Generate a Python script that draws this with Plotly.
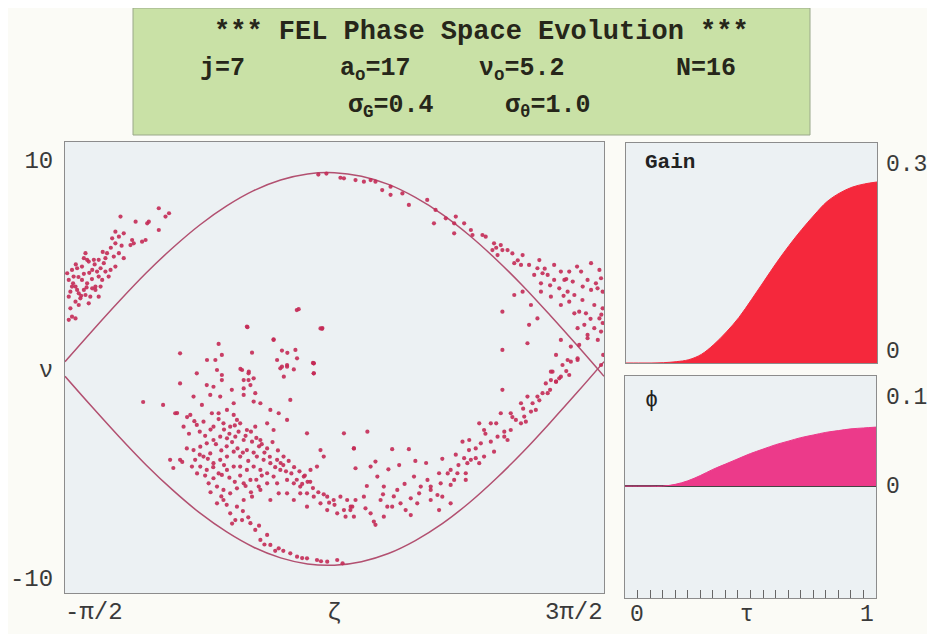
import plotly.graph_objects as go

W, H = 935, 634          # browser window
OX, OY = 8, 8            # default body margin of the html page
FW, FH = W - OX, H - OY

# ---------------- data ----------------
# zeta is stored in units of pi (axis runs from -pi/2 to 3pi/2)
sep_zeta = [-0.5, -0.4, -0.3, -0.2, -0.1, 0.0, 0.1, 0.2, 0.3, 0.4, 0.5,
            0.6, 0.7, 0.8, 0.9, 1.0, 1.1, 1.2, 1.3, 1.4, 1.5]
sep_upper = [0.35, 1.81, 3.23, 4.58, 5.80, 6.89, 7.80, 8.53, 9.04, 9.33, 9.39,
             9.22, 8.83, 8.21, 7.40, 6.40, 5.24, 3.96, 2.57, 1.13, -0.35]
sep_lower = [-0.35, -1.81, -3.23, -4.58, -5.80, -6.89, -7.80, -8.53, -9.04, -9.33, -9.39,
             -9.22, -8.83, -8.21, -7.40, -6.40, -5.24, -3.96, -2.57, -1.13, 0.35]

# particles (zeta/pi, nu)
cluster_upper_left = [
    (-0.474, 3.94), (-0.455, 3.78), (-0.449, 3.62), (-0.424, 3.54), (-0.412, 3.14),
    (-0.461, 3.22), (-0.443, 3.38), (-0.399, 3.86), (-0.387, 3.94), (-0.368, 3.94),
    (-0.418, 4.10), (-0.437, 4.26), (-0.468, 4.42), (-0.455, 4.82), (-0.437, 4.90),
    (-0.412, 5.14), (-0.399, 4.74), (-0.381, 4.66), (-0.368, 4.82), (-0.350, 4.66),
    (-0.331, 4.74), (-0.313, 4.90), (-0.356, 5.06), (-0.350, 5.30), (-0.375, 5.22),
    (-0.393, 5.22), (-0.424, 5.54), (-0.418, 5.22), (-0.344, 5.54), (-0.319, 5.38),
    (-0.300, 5.54), (-0.282, 5.30), (-0.313, 6.01), (-0.325, 6.25), (-0.300, 6.33),
    (-0.282, 6.49), (-0.251, 6.17), (-0.245, 6.01), (-0.214, 6.09), (-0.201, 6.17),
    (-0.257, 5.93), (-0.313, 6.57), (-0.294, 7.29), (-0.238, 7.05), (-0.195, 6.97),
    (-0.189, 7.05), (-0.152, 7.69), (-0.127, 7.29), (-0.114, 7.45), (-0.152, 6.65),
    (-0.486, 3.46), (-0.492, 4.58), (-0.474, 2.50), (-0.461, 2.42), (-0.486, 2.35),
    (-0.375, 3.46), (-0.387, 3.78), (-0.362, 4.26), (-0.338, 4.42), (-0.449, 3.06),
    (-0.480, 2.90), (-0.430, 3.78), (-0.406, 3.46), (-0.461, 3.94), (-0.375, 4.42),
    (-0.430, 4.55), (-0.474, 4.74), (-0.486, 4.26), (-0.470, 4.10), (-0.450, 4.40),
    (-0.420, 3.90), (-0.400, 4.30), (-0.440, 3.50), (-0.480, 3.70), (-0.410, 4.60),
    (-0.390, 5.00), (-0.360, 5.60), (-0.330, 5.80), (-0.290, 5.90), (-0.460, 5.00),
    (-0.430, 5.30),
]
cluster_upper_right = [
    (0.522, 9.15), (0.535, 9.12), (0.578, 9.04), (0.609, 8.96), (0.634, 9.04),
    (0.652, 8.96), (0.677, 8.56), (0.708, 8.72), (0.708, 8.33), (0.752, 8.40),
    (0.776, 7.85), (0.844, 8.09), (0.875, 7.61), (0.869, 6.97), (0.913, 7.21),
    (0.950, 7.29), (0.944, 6.97), (0.981, 6.97), (1.006, 6.65), (1.012, 6.41),
    (1.049, 6.41), (1.061, 6.33), (1.092, 6.01), (1.117, 5.93), (1.123, 5.69),
    (1.142, 5.69), (1.086, 5.69), (1.105, 5.45), (1.160, 5.53), (1.167, 5.06),
    (1.198, 5.45), (1.192, 4.98), (1.222, 4.98), (1.260, 5.21), (1.253, 4.82),
    (1.272, 4.58), (1.291, 4.50), (1.315, 4.98), (1.340, 4.66), (1.371, 4.66),
    (1.353, 4.26), (1.384, 4.18), (1.415, 4.66), (1.452, 5.06), (1.483, 4.74),
    (1.489, 4.34), (1.439, 4.26), (1.421, 3.94), (1.452, 3.78), (1.476, 3.86),
    (1.495, 3.70), (1.315, 4.26), (1.334, 3.86), (1.365, 3.70), (1.390, 3.54),
    (1.303, 3.46), (1.340, 3.06), (1.371, 3.22), (1.408, 2.74), (1.433, 2.66),
    (1.390, 2.66), (1.427, 2.11), (1.402, 1.95), (1.439, 1.63), (1.464, 1.95),
    (1.489, 1.79), (1.483, 2.42), (1.495, 2.90), (1.464, 3.06), (1.266, 4.10),
    (1.241, 4.50), (1.266, 3.70), (1.198, 3.70), (1.167, 3.54), (1.123, 2.74),
    (1.229, 3.06), (1.253, 2.42), (1.222, 2.11), (1.340, 1.39), (1.377, 1.07),
    (1.408, 1.15), (1.439, 1.47), (1.477, 1.39), (1.216, 1.23), (1.123, 0.91),
    (1.322, 0.67), (1.365, 0.43), (1.402, 0.51), (1.303, -0.13), (1.334, -0.45),
    (1.371, -0.29), (1.322, -0.61), (1.489, 0.19), (1.497, 0.67), (0.944, 6.49),
    (0.448, 1.94), (1.495, 2.20), (1.490, 2.60), (1.300, 4.00), (1.350, 3.50),
    (1.420, 3.30), (1.450, 2.40), (1.470, 4.10), (1.280, 4.80), (1.400, 4.90),
    (1.360, 4.30), (1.180, 5.20), (1.100, 5.80), (0.470, 9.35), (0.440, 9.30),
]
cluster_lower_left = [
    (0.026, -0.77), (0.051, -0.85), (0.082, -0.29), (0.119, -1.00), (0.163, -0.93),
    (0.188, -0.77), (0.206, -1.16), (0.181, -0.53), (0.157, -0.05), (0.181, -0.21),
    (0.039, -1.24), (0.076, -1.32), (0.126, -1.64), (0.163, -1.24), (0.200, -1.56),
    (0.225, -1.64), (0.262, -1.96), (0.293, -2.12), (0.324, -2.44), (0.305, 0.11),
    (0.324, 0.19), (0.423, 0.27), (0.423, -0.21), (0.336, -1.48), (0.398, -3.08),
    (0.448, -3.88), (0.535, -3.08), (0.572, -3.80), (-0.073, -0.69), (-0.023, -1.32),
    (0.008, -1.72), (-0.035, -2.20), (-0.060, -2.76), (-0.011, -2.68), (0.014, -2.52),
    (0.045, -2.12), (0.070, -2.12), (0.101, -1.96), (0.126, -2.20), (0.138, -2.44),
    (0.051, -2.76), (0.088, -2.60), (0.113, -2.76), (0.144, -3.00), (0.175, -2.92),
    (0.206, -2.76), (0.250, -2.60), (0.274, -2.92), (0.225, -3.40), (0.194, -3.48),
    (0.163, -3.40), (0.132, -3.24), (0.101, -3.32), (0.076, -3.24), (0.051, -3.40),
    (0.026, -3.56), (0.002, -3.72), (-0.023, -3.88), (-0.048, -3.80), (-0.017, -4.35),
    (-0.029, -4.67), (0.002, -4.67), (0.026, -4.83), (0.051, -4.51), (0.076, -4.35),
    (0.101, -4.19), (0.126, -3.96), (0.150, -4.19), (0.175, -3.88), (0.212, -4.19),
    (0.237, -4.35), (0.262, -4.51), (0.287, -4.35), (0.311, -4.19), (0.299, -4.83),
    (0.274, -5.15), (0.250, -4.99), (0.225, -4.83), (0.200, -4.67), (0.175, -4.83),
    (0.150, -4.67), (0.126, -4.67), (0.101, -4.83), (0.082, -5.07), (0.051, -5.23),
    (0.033, -5.47), (0.064, -5.63), (0.088, -5.79), (0.113, -5.95), (0.138, -5.71),
    (0.163, -5.47), (0.188, -5.31), (0.219, -5.63), (0.250, -5.47), (0.287, -5.47),
    (0.324, -5.31), (0.349, -5.47), (0.373, -5.63), (0.386, -5.15), (0.411, -4.83),
    (0.435, -4.67), (0.460, -4.19), (0.473, -6.11), (0.497, -6.27), (0.522, -6.11),
    (0.547, -6.27), (0.566, -6.59), (0.535, -6.75), (0.510, -6.91), (0.473, -6.75),
    (0.448, -6.43), (0.423, -6.11), (0.398, -5.95), (0.373, -5.95), (0.398, -6.59),
    (0.349, -6.27), (0.324, -5.95), (0.293, -5.95), (0.262, -6.27), (0.225, -5.79),
    (0.194, -6.11), (0.163, -6.27), (0.138, -6.59), (0.113, -6.91), (0.132, -7.23),
    (0.157, -7.23), (0.188, -7.38), (0.206, -7.70), (0.225, -8.18), (0.250, -7.94),
    (0.262, -8.42), (0.293, -8.58), (0.336, -8.82), (0.361, -8.98), (0.398, -9.06),
    (0.435, -9.14), (0.473, -9.22), (0.510, -9.14), (0.559, -6.75), (0.541, -7.07),
    (0.572, -7.07), (0.064, -6.43), (0.088, -6.27), (0.039, -4.04), (0.014, -4.19),
    (-0.073, -4.35), (-0.091, -2.12), (-0.011, -0.21), (0.064, -0.05), (0.082, -0.53),
    (-0.210, -1.58), (-0.136, -1.72), (-0.084, -2.11), (-0.047, -2.30), (-0.110, -4.35),
    (-0.065, -4.45), (-0.098, -4.74),
    (0.000, -3.00), (0.020, -3.20), (0.040, -2.90), (0.060, -3.60), (0.080, -3.90),
    (0.100, -3.70), (0.120, -3.50), (0.140, -3.80), (0.160, -4.00), (0.180, -4.40),
    (0.200, -4.00), (0.220, -3.70), (0.240, -4.00), (0.260, -4.20), (0.280, -4.70),
    (0.300, -4.50), (0.320, -4.90), (0.340, -5.00), (0.360, -5.30), (0.380, -5.50),
    (0.400, -5.40), (0.420, -5.70), (0.440, -5.90), (0.460, -6.00), (0.480, -6.40),
    (0.500, -6.50), (0.030, -4.30), (0.050, -4.70), (0.070, -5.00), (0.090, -4.60),
    (0.110, -5.20), (0.130, -5.40), (0.150, -5.10), (0.170, -5.60), (0.190, -5.90),
    (0.210, -5.30), (0.230, -5.10), (0.070, -2.40), (0.090, -2.90), (0.110, -3.10),
    (0.130, -2.70), (0.150, -2.60), (0.170, -3.20), (0.190, -3.00), (0.210, -3.30),
    (0.230, -3.60), (0.250, -3.80), (0.270, -3.50), (0.290, -3.90), (0.310, -4.60),
    (0.330, -4.40), (0.350, -4.70), (0.370, -4.90), (0.390, -5.10), (0.410, -5.40),
    (-0.020, -2.50), (-0.040, -3.10), (0.000, -4.10), (-0.010, -5.00), (0.020, -5.10),
    (0.040, -5.90), (0.080, -6.10), (0.100, -6.50), (0.160, -6.80), (0.120, -7.40),
    (0.180, -7.10), (0.220, -7.50), (0.240, -8.40), (0.280, -8.70), (0.310, -8.70),
    (0.380, -9.05), (0.450, -9.20), (0.530, -9.30),
]
cluster_lower_right = [
    (0.622, -3.00), (0.572, -3.80), (0.714, -3.84), (0.776, -3.84), (0.578, -4.75),
    (0.652, -4.43), (0.634, -4.67), (0.609, -6.11), (0.578, -6.27), (0.560, -6.59),
    (0.615, -6.67), (0.634, -6.91), (0.652, -7.46), (0.646, -7.30), (0.683, -7.07),
    (0.696, -6.59), (0.671, -6.27), (0.714, -6.59), (0.745, -6.43), (0.764, -6.75),
    (0.783, -6.99), (0.783, -6.19), (0.807, -6.43), (0.814, -5.95), (0.820, -5.63),
    (0.795, -5.15), (0.845, -5.31), (0.857, -5.79), (0.857, -6.27), (0.882, -6.03),
    (0.894, -5.47), (0.931, -5.55), (0.944, -5.31), (0.888, -4.99), (0.931, -4.83),
    (0.956, -4.99), (0.987, -4.99), (0.993, -4.51), (0.981, -4.27), (1.006, -4.35),
    (1.024, -4.27), (1.037, -4.51), (1.055, -4.19), (0.999, -3.88), (1.024, -3.80),
    (0.975, -3.48), (1.043, -3.56), (1.080, -3.48), (1.092, -3.96), (1.105, -3.24),
    (1.130, -3.24), (1.142, -3.40), (1.130, -3.00), (1.154, -2.92), (1.173, -2.44),
    (1.192, -2.60), (1.204, -2.28), (1.210, -2.52), (1.229, -2.04), (1.247, -1.96),
    (1.235, -1.64), (1.253, -1.32), (1.272, -1.16), (1.291, -1.16), (1.284, -0.69),
    (1.303, -0.53), (1.322, -0.61), (1.340, -0.37), (1.309, -0.13), (1.346, 0.19),
    (1.377, 0.35), (1.402, 0.43), (1.117, -2.12), (1.154, -2.12), (1.080, -2.60),
    (1.037, -2.60), (1.055, -2.92), (1.123, -1.00), (1.192, -1.64), (1.216, -1.32),
    (0.987, -5.31), (0.683, -5.63), (0.733, -5.79), (0.659, -5.15), (0.857, -5.63),
    (0.900, -6.11), (0.931, -6.43), (0.888, -6.75),
    (0.700, -4.80), (0.740, -4.60), (0.800, -4.40), (0.840, -4.50), (0.900, -4.30),
    (0.950, -4.10), (1.000, -3.40), (1.060, -3.10), (1.100, -2.60), (1.160, -2.30),
    (1.200, -1.90), (1.260, -1.50), (1.300, -1.00), (1.360, -0.10), (0.620, -5.60),
    (0.680, -6.00), (0.720, -6.10), (0.760, -5.50), (0.920, -5.00), (0.960, -4.60),
]
cluster_middle = [
    (0.367, 2.86), (0.175, 2.03), (0.274, 1.42), (0.454, 1.92), (0.070, 1.20),
    (0.194, 0.78), (0.305, 0.88), (0.355, 0.91), (0.082, 0.67), (0.287, 0.43),
    (0.423, 0.27), (0.361, 0.51), (0.324, 0.11), (0.349, -0.02), (0.151, 0.00),
    (0.182, -0.13), (0.299, 0.03), (0.423, -0.21), (0.312, -0.37), (0.200, -0.45),
    (0.163, -0.53), (0.027, 0.43), (0.058, 0.43), (-0.073, 0.75), (0.177, 2.00),
    (0.274, 1.39), (0.360, 2.82), (0.325, 0.77), (0.420, 0.29), (0.455, 1.96),
]

# time-evolution panels
tau = [0.0, 0.05, 0.1, 0.15, 0.2, 0.25, 0.3, 0.35, 0.4, 0.45, 0.5,
       0.55, 0.6, 0.65, 0.7, 0.75, 0.8, 0.85, 0.9, 0.95, 1.0]
gain = [0.0, 0.0, 0.0, 0.0005, 0.002, 0.005, 0.013, 0.028, 0.047, 0.069, 0.096,
        0.124, 0.152, 0.178, 0.202, 0.224, 0.244, 0.257, 0.266, 0.271, 0.274]
phase = [0.0, 0.0, 0.0, 0.0, 0.002, 0.006, 0.012, 0.019, 0.025, 0.031, 0.037,
         0.042, 0.047, 0.051, 0.055, 0.058, 0.061, 0.063, 0.065, 0.066, 0.067]
tau_ticks = [0.05, 0.1, 0.15, 0.2, 0.25, 0.3, 0.35, 0.4, 0.45, 0.5,
             0.55, 0.6, 0.65, 0.7, 0.75, 0.8, 0.85, 0.9, 0.95]

# ---------------- figure ----------------
def fx(p):
    return (p - OX) / FW


def fy(p):
    return 1 - (p - OY) / FH


particles = (cluster_upper_left + cluster_upper_right + cluster_lower_left
             + cluster_lower_right + cluster_middle)
pz = [p[0] for p in particles]
pn = [p[1] for p in particles]

MONO = "Liberation Mono, DejaVu Sans Mono, monospace"
LAB = dict(family=MONO, size=24, color="#3a3a3a")
AX_LINE = "#8c8c8c"

fig = go.Figure()
fig.add_trace(go.Scatter(x=sep_zeta, y=sep_upper, mode="lines", line=dict(color="#b25070", width=1.5, shape="spline"),
                         xaxis="x", yaxis="y", hoverinfo="skip"))
fig.add_trace(go.Scatter(x=sep_zeta, y=sep_lower, mode="lines", line=dict(color="#b25070", width=1.5, shape="spline"),
                         xaxis="x", yaxis="y", hoverinfo="skip"))
fig.add_trace(go.Scatter(x=pz, y=pn, mode="markers",
                         marker=dict(size=4.2, color="#c42a55", opacity=0.9, line=dict(width=0)),
                         xaxis="x", yaxis="y"))
fig.add_trace(go.Scatter(x=tau, y=gain, mode="lines", fill="tozeroy", fillcolor="#f5283c",
                         line=dict(color="#f5283c", width=1, shape="spline"), xaxis="x2", yaxis="y2"))
fig.add_trace(go.Scatter(x=tau, y=phase, mode="lines", fill="tozeroy", fillcolor="#ec3a8a",
                         line=dict(color="#ec3a8a", width=1, shape="spline"), xaxis="x3", yaxis="y3"))

common = dict(showgrid=False, zeroline=False, showline=True, mirror=True, linecolor=AX_LINE, linewidth=1)

fig.update_layout(
    width=FW, height=FH, autosize=False, showlegend=False,
    margin=dict(l=0, r=0, t=0, b=0),
    paper_bgcolor="#fbfbf6", plot_bgcolor="#ecf1f3",
    xaxis=dict(domain=[fx(65), fx(604)], range=[-0.5, 1.5], showticklabels=False, ticks="", **common),
    yaxis=dict(domain=[fy(593), fy(142)], range=[-10.72, 10.86], tickvals=[-10, 0, 10],
               ticktext=["-10", "ν", "10"], tickfont=LAB, ticks="", ticklabelstandoff=6, **common),
    xaxis2=dict(domain=[fx(626), fx(877)], range=[0, 1], showticklabels=False, ticks="", anchor="y2", **common),
    yaxis2=dict(domain=[fy(363), fy(143)], range=[0, 0.333], showticklabels=False, ticks="", anchor="x2", **common),
    xaxis3=dict(domain=[fx(625), fx(876)], range=[0, 1], showticklabels=False, anchor="y3",
                tickvals=tau_ticks, ticks="inside", ticklen=8, tickcolor="#666", tickwidth=1,
                showgrid=False, zeroline=False, showline=True, mirror=True, linecolor=AX_LINE, linewidth=1),
    yaxis3=dict(domain=[fy(598), fy(376)], range=[-0.127, 0.125], showticklabels=False, ticks="", anchor="x3",
                showgrid=False, zeroline=True, zerolinecolor="#444", zerolinewidth=1.5,
                showline=True, mirror=True, linecolor=AX_LINE, linewidth=1),
)

# title box
fig.add_shape(type="rect", xref="paper", yref="paper", x0=fx(133), x1=fx(810), y0=fy(135), y1=fy(8),
              fillcolor="#c9e1a6", line=dict(color="#9aa88a", width=1), layer="below")


def title_text(txt, x, y, size=25):
    fig.add_annotation(text="<b>" + txt + "</b>", xref="paper", yref="paper", x=fx(x), y=fy(y),
                       xanchor="center", yanchor="middle", showarrow=False,
                       font=dict(family=MONO, size=size, color="#26261a"))


title_text("*** FEL Phase Space Evolution ***", 481, 32, 27)
title_text("j=7", 222, 68)
title_text("a<sub>o</sub>=17", 375, 70)
title_text("ν<sub>o</sub>=5.2", 522, 70)
title_text("N=16", 706, 68)
title_text("σ<sub>G</sub>=0.4", 391, 106)
title_text("σ<sub>θ</sub>=1.0", 548, 106)


def label(txt, x, y, xanchor="center", font=None):
    fig.add_annotation(text=txt, xref="paper", yref="paper", x=fx(x), y=fy(y), xanchor=xanchor,
                       yanchor="middle", showarrow=False, font=font or LAB)


# left panel x labels
label("-π/2", 63, 612, "left")
label("ζ", 334, 613)
label("3π/2", 605, 612, "right")
RLAB = dict(family=MONO, size=23, color="#3a3a3a")
# gain panel labels
label("0.3", 884, 165, "left", RLAB)
label("0", 884, 352, "left", RLAB)
label("<b>Gain</b>", 643, 163, "left", dict(family=MONO, size=21, color="#222"))
# phase panel labels
label("0.1", 884, 398, "left", RLAB)
label("0", 884, 487, "left", RLAB)
label("ϕ", 643, 400, "left", dict(family=MONO, size=22, color="#222"))
label("0", 637, 615, "center", RLAB)
label("τ", 747, 615, "center", RLAB)
label("1", 867, 615, "center", RLAB)

fig.write_html("out.html")
